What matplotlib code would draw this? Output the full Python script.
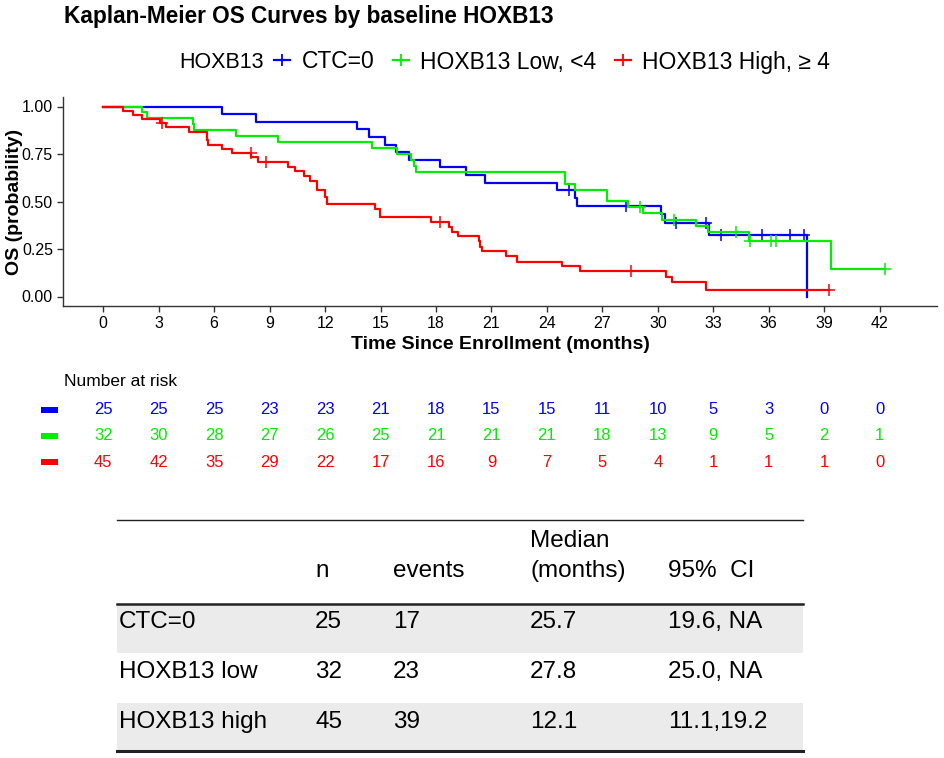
import numpy as np
import matplotlib
matplotlib.use("Agg")
import matplotlib.pyplot as plt
from matplotlib.lines import Line2D
from matplotlib.patches import Rectangle
from matplotlib.transforms import blended_transform_factory

plt.rcParams["font.family"] = ["Liberation Sans", "DejaVu Sans"]

# KM step curves (time in months, survival)
blue_t = [0, 6.43, 8.24, 13.75, 14.38, 15.26, 15.86, 16.54, 18.2, 19.64, 20.67,
          24.54, 25.54, 25.62, 30.15, 30.36, 32.76, 38.05]
blue_s = [1.0, 0.96, 0.92, 0.88, 0.84, 0.80, 0.76, 0.72, 0.68, 0.64, 0.60,
          0.56, 0.517, 0.477, 0.432, 0.386, 0.322, 0.0]
blue_cens = [25.19, 28.3, 31.0, 32.58, 33.43, 35.64, 37.17, 37.89]

green_t = [0, 2.11, 2.35, 4.83, 4.92, 7.16, 9.46, 14.56, 15.89, 16.67, 16.8, 16.9,
           24.96, 25.5, 27.26, 28.38, 29.19, 30.24, 32.08, 32.7, 34.92, 39.37, 42.3]
green_s = [1.0, 0.969, 0.938, 0.906, 0.875, 0.844, 0.813, 0.781, 0.75, 0.719, 0.688, 0.656,
           0.594, 0.563, 0.504, 0.472, 0.44, 0.404, 0.372, 0.337, 0.29, 0.146, 0.146]
green_cens = [29.05, 30.9, 34.24, 34.96, 36.13, 36.4, 42.3]

red_t = [0, 1.08, 1.62, 2.11, 3.06, 3.42, 4.65, 5.59, 5.63, 5.68, 6.45, 6.94, 8.0, 8.38,
         9.97, 10.4, 10.85, 11.17, 11.54, 11.98, 12.13, 14.69, 14.96, 17.71, 18.7, 18.89,
         19.19, 20.32, 20.4, 20.5, 21.8, 22.38, 24.83, 25.8, 30.45, 30.76, 32.62, 39.24]
red_s = [1.0, 0.978, 0.956, 0.933, 0.911, 0.89, 0.867, 0.844, 0.822, 0.80, 0.776, 0.755, 0.733, 0.707,
         0.683, 0.658, 0.634, 0.609, 0.561, 0.524, 0.488, 0.462, 0.416, 0.392, 0.368, 0.342,
         0.316, 0.29, 0.263, 0.237, 0.211, 0.183, 0.158, 0.132, 0.102, 0.074, 0.035, 0.035]
red_cens = [3.2, 7.97, 8.83, 18.2, 28.56, 39.24]

labels = ["CTC=0", "HOXB13 Low, <4", "HOXB13 High, \u2265 4"]
colors = ["#0000FF", "#00EE00", "#FF0000"]

risk_times = list(range(0, 43, 3))
risk_blue = [25, 25, 25, 23, 23, 21, 18, 15, 15, 11, 10, 5, 3, 0, 0]
risk_green = [32, 30, 28, 27, 26, 25, 21, 21, 21, 18, 13, 9, 5, 2, 1]
risk_red = [45, 42, 35, 29, 22, 17, 16, 9, 7, 5, 4, 1, 1, 1, 0]

tbl_header = ["n", "events", "(months)", "95%  CI"]
tbl_groups = ["CTC=0", "HOXB13 low", "HOXB13 high"]
tbl_n = ["25", "32", "45"]
tbl_events = ["17", "23", "39"]
tbl_median = ["25.7", "27.8", "12.1"]
tbl_ci = ["19.6, NA", "25.0, NA", "11.1,19.2"]

W, H = 944, 758
fig = plt.figure(figsize=(W / 100, H / 100), dpi=100)
fx = lambda px: px / W
fy = lambda py: 1 - py / H

ax = fig.add_axes([fx(63.3), fy(306), fx(937) - fx(63.3), fy(97) - fy(306)])
curves = [(blue_t, blue_s, blue_cens), (green_t, green_s, green_cens), (red_t, red_s, red_cens)]
for (t, s, c), col in zip(curves, colors):
    ax.step(t, s, where="post", color=col, lw=1.6)
    idx = np.searchsorted(t, c, side="right") - 1
    ax.plot(c, np.array(s)[idx], ls="none", marker="+", ms=8, mew=1.1, color=col)

ax.set_xlim(-2.16, 45.1)
ax.set_ylim(-0.05, 1.05)
ax.set_xticks(risk_times)
ax.set_yticks([0, 0.25, 0.5, 0.75, 1.0])
ax.set_yticklabels(["0.00", "0.25", "0.50", "0.75", "1.00"])
for sp in ["top", "right"]:
    ax.spines[sp].set_visible(False)
for sp in ["left", "bottom"]:
    ax.spines[sp].set_color("#333333")
    ax.spines[sp].set_linewidth(1.0)
ax.tick_params(labelsize=11.5, colors="#333333", labelcolor="black", length=4, width=1.0)
ax.set_xlabel("Time Since Enrollment (months)", fontsize=14, fontweight="bold", labelpad=3)
fig.text(fx(15), fy(202), "OS (probability)", rotation=90, fontsize=14, fontweight="bold",
         ha="center", va="center")

fig.text(fx(64), fy(17), "Kaplan-Meier OS Curves by baseline HOXB13", fontsize=16.3,
         fontweight="bold", va="center", ha="left")

# legend
fig.text(fx(179), fy(62), "HOXB13", fontsize=15.5, va="center", ha="left")
handles = [Line2D([], [], color=c, lw=1.6, marker="+", ms=9, mew=1.3) for c in colors]
fig.legend(handles, labels, loc="center left", bbox_to_anchor=(fx(274), fy(62)), ncol=3,
           frameon=False, fontsize=16.5, handlelength=0.7, handletextpad=0.5,
           columnspacing=0.8, borderpad=0, borderaxespad=0)

# number at risk
fig.text(fx(64), fy(381), "Number at risk", fontsize=12.5, va="center", ha="left")
tr = blended_transform_factory(ax.transData, fig.transFigure)
for row, (vals, col) in enumerate(zip([risk_blue, risk_green, risk_red], colors)):
    yy = fy(410 + 26 * row)
    fig.add_artist(Rectangle((fx(41), yy - 3 / H), 17 / W, 6 / H, transform=fig.transFigure,
                             color=col, lw=0))
    for t, v in zip(risk_times, vals):
        fig.text(t, yy, str(v), transform=tr, color=col, fontsize=12, ha="center", va="center")

# summary table
x0, x1 = fx(117), fx(803)
cols_x = [fx(119), fx(315), fx(393), fx(530), fx(668)]
for top, bot in [(604, 653), (703, 751)]:
    fig.add_artist(Rectangle((x0, fy(bot)), x1 - x0, (bot - top) / H, transform=fig.transFigure,
                             color="#ebebeb", lw=0, zorder=0))
for yy, lw in [(520, 1.0), (604, 1.8), (751, 2.2)]:
    fig.add_artist(Line2D([x0, x1], [fy(yy), fy(yy)], color="#222222", lw=lw,
                          transform=fig.transFigure))
fs = 17.5
fig.text(cols_x[3], fy(547), "Median", fontsize=fs, va="baseline", ha="left")
for xx, txt in zip(cols_x[1:], tbl_header):
    fig.text(xx, fy(577), txt, fontsize=fs, va="baseline", ha="left")
for i, row in enumerate(zip(tbl_groups, tbl_n, tbl_events, tbl_median, tbl_ci)):
    yb = fy(628 + 50 * i)
    for xx, txt in zip(cols_x, row):
        fig.text(xx, yb, txt, fontsize=fs, va="baseline", ha="left")

fig.savefig("out.png", dpi=100)
